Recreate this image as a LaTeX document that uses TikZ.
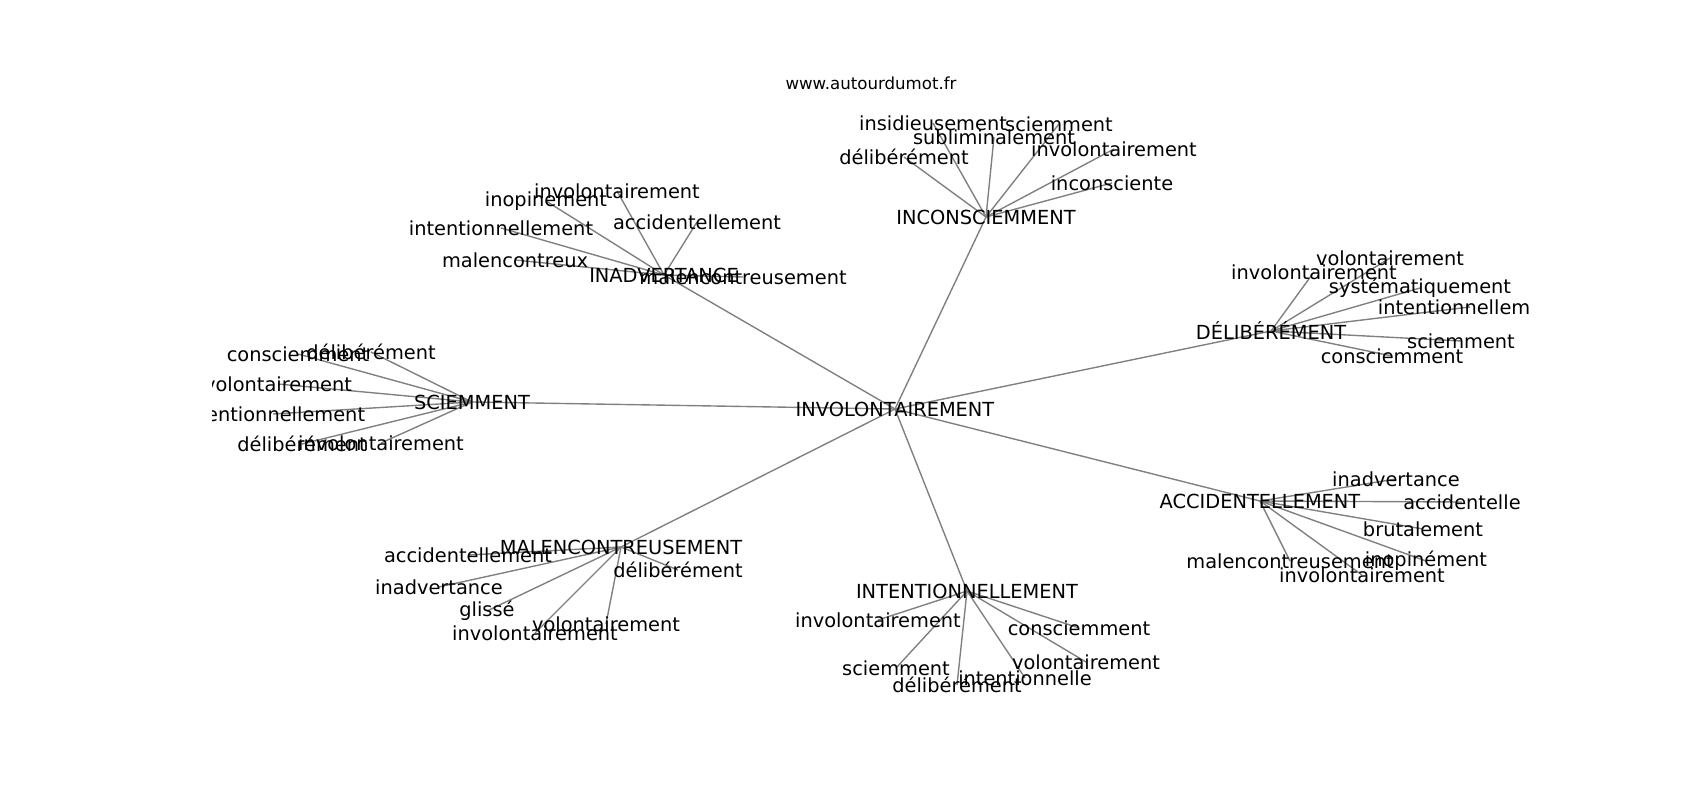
\documentclass[tikz,border=0pt]{standalone}
\usepackage{fontspec}
\setmainfont{DejaVu Sans}
\usetikzlibrary{backgrounds}

\begin{document}
\begin{tikzpicture}[x=0.01in,y=-0.01in,
  word/.style={inner sep=0pt,font=\fontsize{14}{16}\selectfont},
  link/.style={draw=gray,line width=1pt}]
  \useasboundingbox (0,0) rectangle (1700,800);

  \node[inner sep=0pt,font=\fontsize{12}{14}\selectfont] (site) at (871,83)
  {www.autourdumot.fr};

  \begin{scope}
    \clip (212.5,96) rectangle (1530,712);

    % centre
    \node[word] (invol) at (895,409) {INVOLONTAIREMENT};

    % inconsciemment
    \node[word] (incons) at (986,217) {INCONSCIEMMENT};
    \node[word] (incons-insid) at (933,123) {insidieusement};
    \node[word] (incons-sciem) at (1059,124) {sciemment};
    \node[word] (incons-subli) at (994,137) {subliminalement};
    \node[word] (incons-delib) at (904,157) {délibérément};
    \node[word] (incons-invol) at (1114,149) {involontairement};
    \node[word] (incons-incon) at (1112,183) {inconsciente};

    % inadvertance
    \node[word] (inadv) at (664,275) {INADVERTANCE};
    \node[word] (inadv-invol) at (617,191) {involontairement};
    \node[word] (inadv-inopi) at (546,201) {inopinement};
    \node[word] (inadv-inten) at (501,228) {intentionnellement};
    \node[word] (inadv-accid) at (697,222) {accidentellement};
    \node[word] (inadv-malex) at (515,260) {malencontreux};
    \node[word] (inadv-malen) at (743,277) {malencontreusement};

    % sciemment
    \node[word] (sciem) at (472,402) {SCIEMMENT};
    \node[word] (sciem-consc) at (298,354) {consciemment};
    \node[word] (sciem-delib) at (371,352) {délibérément};
    \node[word] (sciem-volon) at (278,384) {volontairement};
    \node[word] (sciem-inten) at (273,414) {intentionnellement};
    \node[word] (sciem-delia) at (302,444) {délibérément};
    \node[word] (sciem-invol) at (381,443) {involontairement};

    % deliberement
    \node[word] (delib) at (1271,331) {DÉLIBÉRÉMENT};
    \node[word] (delib-volon) at (1390,258) {volontairement};
    \node[word] (delib-invol) at (1314,272) {involontairement};
    \node[word] (delib-syste) at (1420,288) {systématiquement};
    \node[word] (delib-inten) at (1470,307) {intentionnellement};
    \node[word] (delib-sciem) at (1461,341) {sciemment};
    \node[word] (delib-consc) at (1392,356) {consciemment};

    % accidentellement
    \node[word] (accid) at (1260,501) {ACCIDENTELLEMENT};
    \node[word] (accid-inadv) at (1396,479) {inadvertance};
    \node[word] (accid-accid) at (1462,502) {accidentelle};
    \node[word] (accid-bruta) at (1423,529) {brutalement};
    \node[word] (accid-inopi) at (1426,561) {inopinément};
    \node[word] (accid-malen) at (1290,561) {malencontreusement};
    \node[word] (accid-invol) at (1362,575) {involontairement};

    % intentionnellement
    \node[word] (inten) at (967,591) {INTENTIONNELLEMENT};
    \node[word] (inten-invol) at (878,620) {involontairement};
    \node[word] (inten-consc) at (1079,628) {consciemment};
    \node[word] (inten-sciem) at (896,668) {sciemment};
    \node[word] (inten-delib) at (957,685) {délibérément};
    \node[word] (inten-inten) at (1025,678) {intentionnelle};
    \node[word] (inten-volon) at (1086,662) {volontairement};

    % malencontreusement
    \node[word] (malen) at (621,547) {MALENCONTREUSEMENT};
    \node[word] (malen-accid) at (468,555) {accidentellement};
    \node[word] (malen-inadv) at (439,587) {inadvertance};
    \node[word] (malen-delib) at (678,570) {délibérément};
    \node[word] (malen-gliss) at (487,611) {glissé};
    \node[word] (malen-invol) at (535,633) {involontairement};
    \node[word] (malen-volon) at (606,624) {volontairement};
  \end{scope}

  \begin{scope}[on background layer]
    \fill[white] (0,0) rectangle (1700,800);
    \draw[link] (invol.center) -- (incons.center);
    \draw[link] (invol.center) -- (inadv.center);
    \draw[link] (invol.center) -- (sciem.center);
    \draw[link] (invol.center) -- (delib.center);
    \draw[link] (invol.center) -- (accid.center);
    \draw[link] (invol.center) -- (inten.center);
    \draw[link] (invol.center) -- (malen.center);

    \draw[link] (incons.center) -- (incons-insid.center);
    \draw[link] (incons.center) -- (incons-sciem.center);
    \draw[link] (incons.center) -- (incons-subli.center);
    \draw[link] (incons.center) -- (incons-delib.center);
    \draw[link] (incons.center) -- (incons-invol.center);
    \draw[link] (incons.center) -- (incons-incon.center);

    \draw[link] (inadv.center) -- (inadv-invol.center);
    \draw[link] (inadv.center) -- (inadv-inopi.center);
    \draw[link] (inadv.center) -- (inadv-inten.center);
    \draw[link] (inadv.center) -- (inadv-accid.center);
    \draw[link] (inadv.center) -- (inadv-malex.center);
    \draw[link] (inadv.center) -- (inadv-malen.center);

    \draw[link] (sciem.center) -- (sciem-consc.center);
    \draw[link] (sciem.center) -- (sciem-delib.center);
    \draw[link] (sciem.center) -- (sciem-volon.center);
    \draw[link] (sciem.center) -- (sciem-inten.center);
    \draw[link] (sciem.center) -- (sciem-delia.center);
    \draw[link] (sciem.center) -- (sciem-invol.center);

    \draw[link] (delib.center) -- (delib-volon.center);
    \draw[link] (delib.center) -- (delib-invol.center);
    \draw[link] (delib.center) -- (delib-syste.center);
    \draw[link] (delib.center) -- (delib-inten.center);
    \draw[link] (delib.center) -- (delib-sciem.center);
    \draw[link] (delib.center) -- (delib-consc.center);

    \draw[link] (accid.center) -- (accid-inadv.center);
    \draw[link] (accid.center) -- (accid-accid.center);
    \draw[link] (accid.center) -- (accid-bruta.center);
    \draw[link] (accid.center) -- (accid-inopi.center);
    \draw[link] (accid.center) -- (accid-malen.center);
    \draw[link] (accid.center) -- (accid-invol.center);

    \draw[link] (inten.center) -- (inten-invol.center);
    \draw[link] (inten.center) -- (inten-consc.center);
    \draw[link] (inten.center) -- (inten-sciem.center);
    \draw[link] (inten.center) -- (inten-delib.center);
    \draw[link] (inten.center) -- (inten-inten.center);
    \draw[link] (inten.center) -- (inten-volon.center);

    \draw[link] (malen.center) -- (malen-accid.center);
    \draw[link] (malen.center) -- (malen-inadv.center);
    \draw[link] (malen.center) -- (malen-delib.center);
    \draw[link] (malen.center) -- (malen-gliss.center);
    \draw[link] (malen.center) -- (malen-invol.center);
    \draw[link] (malen.center) -- (malen-volon.center);
  \end{scope}
\end{tikzpicture}
\end{document}
